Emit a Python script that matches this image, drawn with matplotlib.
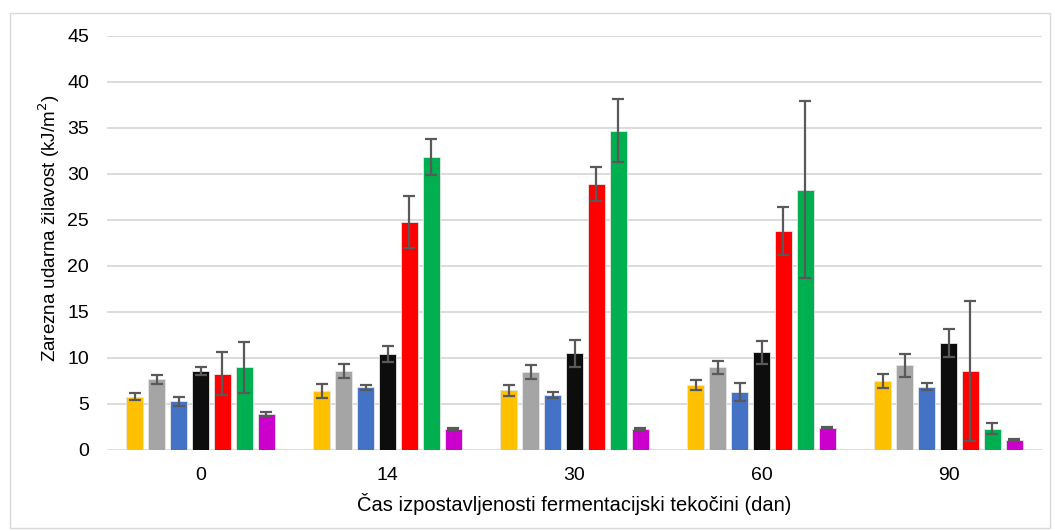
import numpy as np
import matplotlib
matplotlib.use("Agg")
import matplotlib.pyplot as plt
from matplotlib.patches import Rectangle

plt.rcParams['font.family'] = ['Liberation Sans', 'DejaVu Sans']

days = ["0", "14", "30", "60", "90"]
colors = ["#FFC000", "#A5A5A5", "#4472C4", "#0D0D0D", "#FF0000", "#00B050", "#CC00CC"]

# mean values per series (one list per colour), across the five exposure times
s_yellow = [5.8, 6.4, 6.5, 7.1, 7.5]
s_gray = [7.7, 8.6, 8.5, 9.0, 9.2]
s_blue = [5.3, 6.8, 6.0, 6.3, 6.9]
s_black = [8.6, 10.4, 10.5, 10.6, 11.6]
s_red = [8.3, 24.8, 28.9, 23.8, 8.6]
s_green = [9.0, 31.8, 34.7, 28.3, 2.3]
s_magenta = [3.95, 2.3, 2.3, 2.4, 1.1]

# standard deviations
e_yellow = [0.4, 0.8, 0.6, 0.55, 0.8]
e_gray = [0.5, 0.8, 0.75, 0.72, 1.27]
e_blue = [0.5, 0.28, 0.3, 1.0, 0.42]
e_black = [0.4, 0.87, 1.5, 1.2, 1.5]
e_red = [2.35, 2.8, 1.85, 2.65, 7.6]
e_green = [2.75, 1.95, 3.4, 9.65, 0.6]
e_magenta = [0.2, 0.1, 0.1, 0.05, 0.07]

means = [s_yellow, s_gray, s_blue, s_black, s_red, s_green, s_magenta]
errs = [e_yellow, e_gray, e_blue, e_black, e_red, e_green, e_magenta]

fig = plt.figure(figsize=(10.55, 5.31), dpi=100)
ax = fig.add_axes([107 / 1055, 81 / 531, 935 / 1055, 414 / 531])

x = np.arange(len(days))
pitch = 0.1176
width = 0.091
for i, (m, e, c) in enumerate(zip(means, errs, colors)):
    pos = x + (i - 3) * pitch
    ax.bar(pos, m, width, color=c, edgecolor="#e6e6e6", linewidth=0.6, zorder=2)
    ax.errorbar(pos, m, yerr=e, fmt="none", ecolor="#595959", elinewidth=1.6,
                capsize=4.5, capthick=1.6, zorder=3)

ax.set_xlim(-0.5, 4.5)
ax.set_ylim(0, 45)
ax.set_yticks(np.arange(0, 46, 5))
ax.set_xticks(x)
ax.set_xticklabels(days)
ax.yaxis.grid(True, color="#d9d9d9", linewidth=1.3, zorder=0)
ax.set_axisbelow(True)
for sp in ax.spines.values():
    sp.set_visible(False)
ax.tick_params(axis="both", length=0, labelsize=14, colors="#000000")
ax.tick_params(axis="y", pad=13)
ax.tick_params(axis="x", pad=12)

ax.set_ylabel("Zarezna udarna žilavost (kJ/m$^2$)", fontsize=13.5)
ax.yaxis.set_label_coords(-0.048, 0.536)
ax.set_xlabel("Čas izpostavljenosti fermentacijski tekočini (dan)", fontsize=14.5, labelpad=7)

# light frame around the whole chart
fig.patches.append(Rectangle((10 / 1055, 3 / 531), 1040 / 1055, 515 / 531,
                             transform=fig.transFigure, fill=False,
                             edgecolor="#d9d9d9", linewidth=1.0))

fig.savefig("out.png", dpi=100)
